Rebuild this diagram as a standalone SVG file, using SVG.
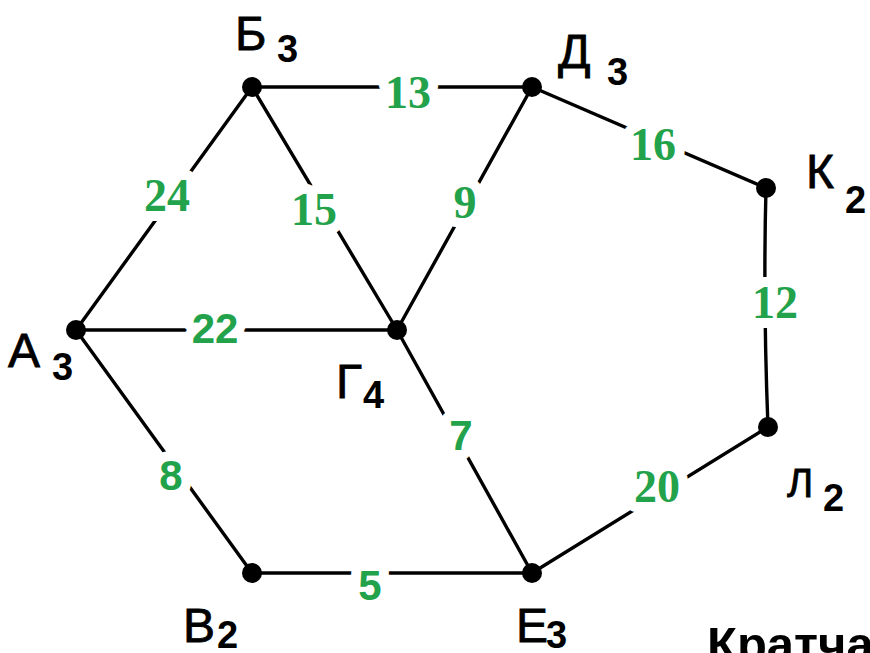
<svg xmlns="http://www.w3.org/2000/svg" width="870" height="653" viewBox="0 0 870 653">
<style>
.e{stroke:#000;stroke-width:3.4;fill:none;stroke-linecap:round}
.n{fill:#000}
.w{font-family:"Liberation Serif",serif;font-weight:bold;font-size:46px;fill:#22a24a;text-anchor:middle;stroke:#fff;stroke-width:20;stroke-linejoin:round;paint-order:stroke}
.ws{font-family:"Liberation Sans",sans-serif;font-weight:bold;font-size:42px;fill:#22a24a;text-anchor:middle;stroke:#fff;stroke-width:20;stroke-linejoin:round;paint-order:stroke}
.l{font-family:"Liberation Sans",sans-serif;font-size:48px;fill:#000;stroke:#000;stroke-width:0.8}
.s{font-family:"Liberation Sans",sans-serif;font-weight:bold;font-size:38px;fill:#000}
.t{font-family:"Liberation Sans",sans-serif;font-weight:bold;font-size:49px;fill:#000}
</style>
<rect width="870" height="653" fill="#fff"/>
<g id="connectors">
<line class="e" x1="252" y1="87" x2="532" y2="87"/>
<line class="e" x1="252" y1="87" x2="76" y2="330"/>
<line class="e" x1="252" y1="87" x2="397" y2="330"/>
<line class="e" x1="532" y1="87" x2="397" y2="330"/>
<line class="e" x1="532" y1="87" x2="766" y2="188"/>
<path class="e" d="M766 188 Q763 300 768 427"/>
<line class="e" x1="76" y1="330" x2="397" y2="330"/>
<line class="e" x1="76" y1="330" x2="252" y2="573"/>
<line class="e" x1="397" y1="330" x2="532" y2="573"/>
<line class="e" x1="252" y1="573" x2="532" y2="573"/>
<line class="e" x1="532" y1="573" x2="768" y2="427"/>
<text class="w" x="408" y="108">13</text>
<text class="w" x="167" y="211">24</text>
<text class="w" x="314" y="225">15</text>
<text class="w" x="465" y="218">9</text>
<text class="w" x="653" y="160">16</text>
<text class="w" x="775" y="318">12</text>
<text class="w" x="657" y="502">20</text>
<text class="ws" x="215" y="343">22</text>
<text class="ws" x="171" y="490">8</text>
<text class="ws" x="461" y="450">7</text>
<text class="ws" x="370" y="600">5</text>
</g>
<g id="nodeB"><circle class="n" cx="252" cy="87" r="10"/><text class="l" x="235" y="50">Б</text><text class="s" x="277" y="62">3</text></g>
<g id="nodeD"><circle class="n" cx="532" cy="87" r="10"/><text class="l" x="558" y="68">Д</text><text class="s" x="607" y="85">3</text></g>
<g id="nodeK"><circle class="n" cx="766" cy="188" r="10"/><text class="l" x="806" y="188">К</text><text class="s" x="845" y="213">2</text></g>
<g id="nodeL"><circle class="n" cx="768" cy="427" r="10"/><text class="l" x="787" y="497" style="font-size:40px">Л</text><text class="s" x="823" y="511">2</text></g>
<g id="nodeA"><circle class="n" cx="76" cy="330" r="10"/><text class="l" x="8" y="367">А</text><text class="s" x="52" y="380">3</text></g>
<g id="nodeG"><circle class="n" cx="397" cy="330" r="10"/><text class="l" x="336" y="398">Г</text><text class="s" x="363" y="408">4</text></g>
<g id="nodeV"><circle class="n" cx="252" cy="573" r="10"/><text class="l" x="183" y="642">В</text><text class="s" x="217" y="648">2</text></g>
<g id="nodeE"><circle class="n" cx="532" cy="573" r="10"/><text class="l" x="516" y="642">Е</text><text class="s" x="546" y="648">3</text></g>
<text class="t" x="707" y="661">Кратча</text>
</svg>
